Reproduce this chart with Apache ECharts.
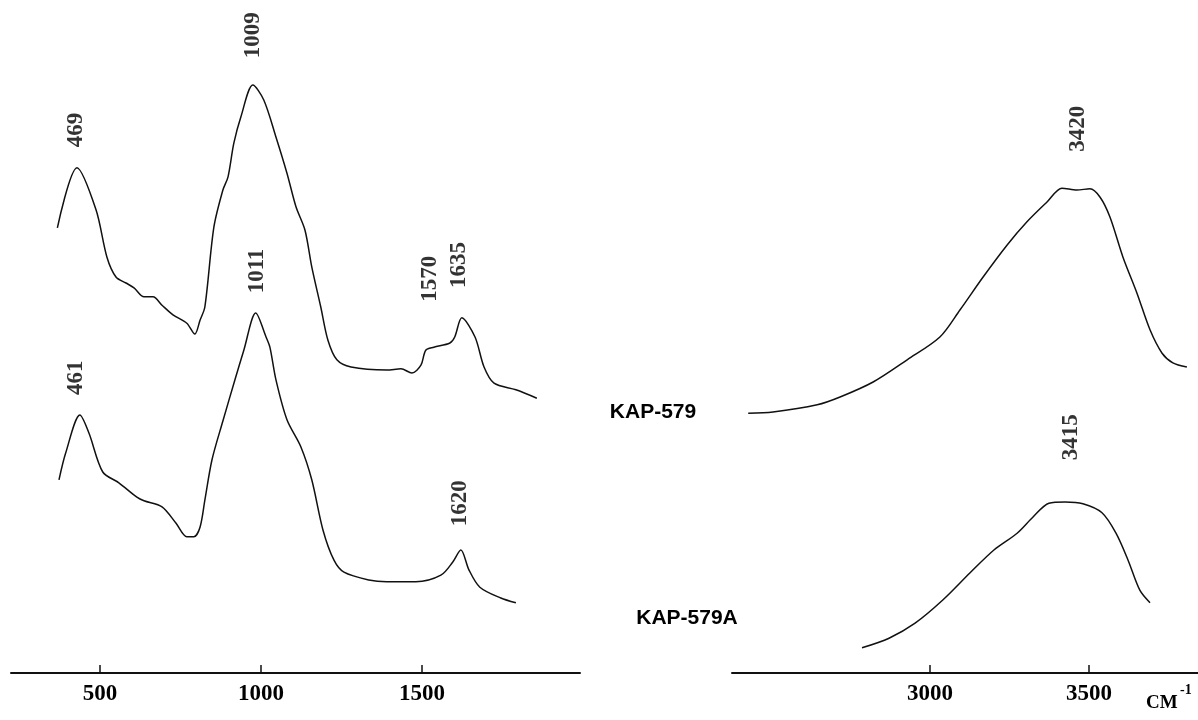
<!DOCTYPE html>
<html><head><meta charset="utf-8">
<script src="https://cdn.jsdelivr.net/npm/echarts@6/dist/echarts.min.js"></script>
<style>html,body{margin:0;padding:0;background:#fff}#c{width:1198px;height:720px}</style>
</head><body><div id="c"></div>
<script>
// tick labels
const lowTicks = [500, 1000, 1500];
const highTicks = [3000, 3500];
// KAP-579, low wavenumber region
const kap579LowX = [368,429,488,522,550,581,606,637,665,693,727,770,795,811,826,854,882,898,916,938,975,1009,1047,1081,1109,1137,1158,1186,1208,1236,1280,1391,1435,1469,1497,1512,1537,1587,1602,1624,1665,1693,1724,1792,1857];
const kap579LowY = [74.2,84.2,77.2,69.3,66.0,65.0,64.2,62.7,62.7,61.3,59.7,58.3,56.5,58.8,61.0,74.3,80.5,82.7,88.3,92.7,98.0,95.5,89.3,83.3,77.7,73.8,67.7,61.0,55.5,52.2,51.0,50.5,50.7,50.0,51.3,53.8,54.3,55.0,56.0,59.2,56.0,51.0,48.3,47.2,45.8];
// KAP-579A, low wavenumber region
const kap579aLowX = [373,394,438,466,509,559,615,637,693,736,770,792,811,826,848,882,919,947,984,1016,1028,1047,1081,1124,1158,1193,1227,1258,1335,1391,1481,1559,1596,1621,1646,1680,1745,1792];
const kap579aLowY = [32.2,36.7,43.0,40.0,33.5,31.7,29.3,28.7,27.7,25.0,22.7,22.7,24.3,28.8,35.5,42.0,48.8,53.8,60.0,56.0,54.3,48.8,42.2,37.7,32.2,23.8,18.8,16.8,15.5,15.2,15.2,16.3,18.5,20.5,17.2,14.3,12.5,11.7];
// KAP-579, high wavenumber region
const kap579HighX = [2428,2506,2645,2717,2821,2928,3031,3094,3167,3242,3305,3368,3415,3462,3503,3535,3566,3607,3651,3692,3730,3764,3808];
const kap579HighY = [43.3,43.5,44.7,46.0,48.5,52.2,56.0,60.5,66.0,71.3,75.2,78.5,80.8,80.5,80.7,79.3,76.0,69.3,63.3,57.2,53.3,51.7,51.0];
// KAP-579A, high wavenumber region
const kap579aHighX = [2786,2871,2953,3041,3126,3201,3274,3324,3374,3425,3481,3541,3585,3623,3660,3692];
const kap579aHighY = [4.2,5.8,8.3,12.2,16.7,20.5,23.3,26.0,28.3,28.5,28.2,26.7,23.3,18.8,13.8,11.7];
// peak annotations (text, wavenumber, height of label centre)
const lowPeakText = ['469','1009','461','1011','1570','1635','1620'];
const lowPeakX = [425,975,425,988,1525,1615,1618];
const lowPeakY = [90.5,106.3,49.2,67.0,65.7,68.0,28.3];
const highPeakText = ['3420','3415'];
const highPeakX = [3465,3443];
const highPeakY = [90.7,39.3];
const sampleNames = ['KAP-579','KAP-579A'];

const zip = (xs, ys) => xs.map((x, i) => [x, ys[i]]);
const peaks = (t, xs, ys) => t.map((s, i) => ({name: s, value: [xs[i], ys[i]]}));

const ink = '#000000';
const serif = 'Liberation Serif, Times New Roman, serif';
function xAxisCfg(gi, min, max, ticks) {
  return {
    type: 'value', gridIndex: gi, min: min, max: max,
    axisLine: {show: true, lineStyle: {color: '#111', width: 2}},
    axisTick: {show: true, inside: true, length: 8, customValues: ticks, lineStyle: {color: '#111', width: 1.5}},
    axisLabel: {show: true, customValues: ticks, margin: 10, color: ink, fontFamily: serif, fontWeight: 'bold', fontSize: 23,
      formatter: v => String(v)},
    splitLine: {show: false}
  };
}
function yAxisCfg(gi) {
  return {type: 'value', gridIndex: gi, min: 0, max: 112, show: false};
}
function lineSeries(ai, data) {
  return {type: 'line', xAxisIndex: ai, yAxisIndex: ai, data: data, smooth: 0.3, symbol: 'none',
    lineStyle: {color: '#111', width: 1.5}, silent: true, z: 3};
}
function labelSeries(ai, data) {
  return {type: 'scatter', xAxisIndex: ai, yAxisIndex: ai, data: data, symbolSize: 0, silent: true,
    itemStyle: {color: ink},
    label: {show: true, position: 'inside', rotate: 90, formatter: p => p.name,
      color: ink, textBorderWidth: 0, textBorderColor: 'transparent',
      fontFamily: serif, fontWeight: 'bold', fontSize: 23}};
}

const chart = echarts.init(document.getElementById('c'), null, {renderer: 'canvas'});
chart.setOption({
  animation: false,
  backgroundColor: '#ffffff',
  grid: [
    {left: 11, width: 569, top: 1, height: 672},
    {left: 732, width: 466, top: 1, height: 672}
  ],
  xAxis: [xAxisCfg(0, 224, 1991, lowTicks), xAxisCfg(1, 2377, 3843, highTicks)],
  yAxis: [yAxisCfg(0), yAxisCfg(1)],
  series: [
    lineSeries(0, zip(kap579LowX, kap579LowY)),
    lineSeries(0, zip(kap579aLowX, kap579aLowY)),
    lineSeries(1, zip(kap579HighX, kap579HighY)),
    lineSeries(1, zip(kap579aHighX, kap579aHighY)),
    labelSeries(0, peaks(lowPeakText, lowPeakX, lowPeakY)),
    labelSeries(1, peaks(highPeakText, highPeakX, highPeakY))
  ],
  graphic: [
    {type: 'text', x: 653, y: 412, style: {text: sampleNames[0], fill: ink, font: 'bold 21px "Liberation Sans", Arial, sans-serif', textAlign: 'center', textVerticalAlign: 'middle'}},
    {type: 'text', x: 687, y: 618, style: {text: sampleNames[1], fill: ink, font: 'bold 21px "Liberation Sans", Arial, sans-serif', textAlign: 'center', textVerticalAlign: 'middle'}},
    {type: 'text', x: 1146, y: 703, style: {text: 'СМ', fill: ink, font: 'bold 19px "Liberation Serif", serif', textVerticalAlign: 'middle'}},
    {type: 'text', x: 1180, y: 690, style: {text: '-1', fill: ink, font: 'bold 14px "Liberation Serif", serif', textVerticalAlign: 'middle'}}
  ]
});
</script>
</body></html>
